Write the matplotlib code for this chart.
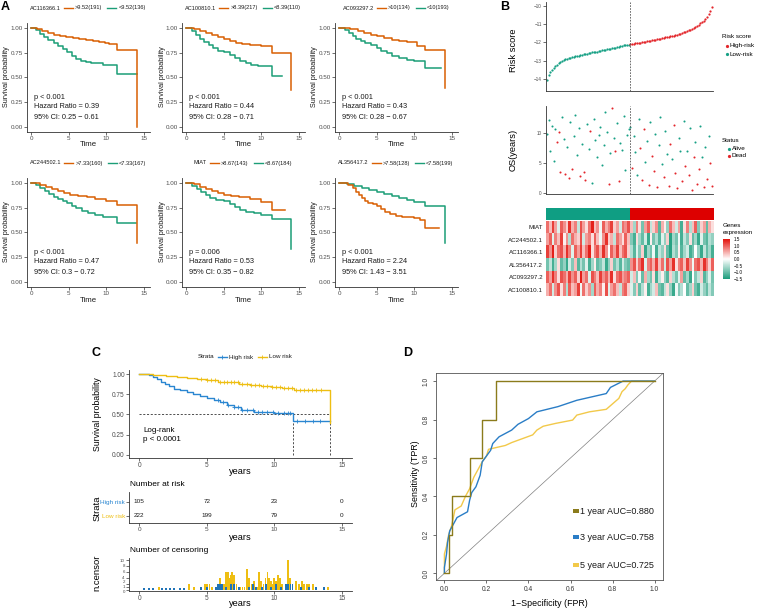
import matplotlib
matplotlib.use("Agg")
import numpy as np
import matplotlib.pyplot as plt
from matplotlib.lines import Line2D
from matplotlib.patches import Rectangle
from matplotlib.colors import LinearSegmentedColormap

plt.rcParams['font.family'] = ['Liberation Sans', 'DejaVu Sans']

### Panel A: KM curves per gene (time, survival after step) ###
genes = ["AC116366.1", "AC100810.1", "AC093297.2", "AC244502.1", "MIAT", "AL356417.2"]
hi_labels = [">9.52(191)", ">8.39(217)", ">10(134)", ">7.33(160)", ">8.67(143)", ">7.58(128)"]
lo_labels = ["<9.52(136)", "<8.39(110)", "<10(193)", "<7.33(167)", "<8.67(184)", "<7.58(199)"]
p_texts = ["p < 0.001", "p < 0.001", "p < 0.001", "p < 0.001", "p = 0.006", "p < 0.001"]
hr_texts = ["0.39", "0.44", "0.43", "0.47", "0.53", "2.24"]
ci_texts = ["0.25 \u2212 0.61", "0.28 \u2212 0.71", "0.28 \u2212 0.67", "0.3 \u2212 0.72", "0.35 \u2212 0.82", "1.43 \u2212 3.51"]

a1_hi_t = [0, 0.8, 1.5, 2.2, 3.0, 3.8, 4.6, 5.5, 6.4, 7.3, 8.2, 9.0, 9.8, 10.3, 11.4, 14.1]
a1_hi_s = [1, 0.99, 0.97, 0.95, 0.93, 0.92, 0.91, 0.90, 0.89, 0.88, 0.87, 0.86, 0.85, 0.84, 0.78, 0.0]
a1_lo_t = [0, 0.7, 1.2, 1.7, 2.3, 3.0, 3.6, 4.2, 4.8, 5.4, 6.0, 6.6, 7.3, 8.0, 9.5, 11.4, 14.1]
a1_lo_s = [1, 0.98, 0.94, 0.91, 0.88, 0.85, 0.82, 0.79, 0.76, 0.72, 0.69, 0.67, 0.65, 0.64, 0.62, 0.535, 0.535]

a2_hi_t = [0, 1.0, 1.8, 2.6, 3.4, 4.2, 5.0, 5.8, 6.6, 7.4, 8.5, 10.0, 11.4, 14.0]
a2_hi_s = [1, 0.99, 0.97, 0.95, 0.93, 0.91, 0.89, 0.87, 0.85, 0.84, 0.83, 0.82, 0.75, 0.37]
a2_lo_t = [0, 0.8, 1.3, 1.8, 2.4, 3.0, 3.6, 4.2, 5.0, 5.8, 6.5, 7.2, 7.9, 8.6, 9.5, 11.4, 12.8]
a2_lo_s = [1, 0.97, 0.93, 0.89, 0.86, 0.83, 0.80, 0.77, 0.76, 0.73, 0.70, 0.67, 0.64, 0.62, 0.61, 0.515, 0.515]

a3_hi_t = [0, 1.5, 2.5, 3.3, 4.2, 5.0, 6.0, 7.0, 8.0, 9.0, 10.3, 11.4, 14.1]
a3_hi_s = [1, 0.99, 0.97, 0.95, 0.93, 0.92, 0.90, 0.88, 0.87, 0.86, 0.82, 0.78, 0.39]
a3_lo_t = [0, 0.8, 1.3, 1.8, 2.3, 2.9, 3.5, 4.2, 5.0, 5.6, 6.3, 7.0, 8.0, 9.0, 10.0, 11.4, 13.6]
a3_lo_s = [1, 0.98, 0.95, 0.92, 0.89, 0.87, 0.85, 0.83, 0.80, 0.77, 0.75, 0.72, 0.70, 0.68, 0.665, 0.595, 0.595]

a4_hi_t = [0, 1.2, 2.0, 2.8, 3.6, 4.4, 5.2, 6.2, 7.4, 8.5, 10.0, 11.4, 14.1]
a4_hi_s = [1, 0.98, 0.96, 0.94, 0.92, 0.90, 0.88, 0.87, 0.86, 0.84, 0.82, 0.78, 0.39]
a4_lo_t = [0, 0.6, 1.2, 1.8, 2.4, 3.0, 3.6, 4.2, 4.8, 5.4, 6.0, 6.8, 7.6, 8.5, 9.5, 10.2, 11.4, 14.0]
a4_lo_s = [1, 0.98, 0.95, 0.92, 0.89, 0.86, 0.84, 0.82, 0.80, 0.77, 0.75, 0.72, 0.70, 0.68, 0.66, 0.65, 0.59, 0.59]

a5_hi_t = [0, 1.0, 1.8, 2.6, 3.4, 4.2, 5.0, 6.0, 7.0, 8.5, 10.0, 11.4, 13.2]
a5_hi_s = [1, 0.99, 0.96, 0.94, 0.92, 0.90, 0.88, 0.87, 0.86, 0.84, 0.81, 0.73, 0.73]
a5_lo_t = [0, 0.8, 1.4, 2.0, 2.6, 3.2, 4.0, 5.0, 5.8, 6.5, 7.2, 8.0, 9.0, 10.0, 11.4, 14.0]
a5_lo_s = [1, 0.97, 0.94, 0.91, 0.88, 0.85, 0.83, 0.82, 0.79, 0.76, 0.73, 0.71, 0.70, 0.675, 0.635, 0.33]

a6_hi_t = [0, 1.2, 1.8, 2.2, 2.6, 3.0, 3.4, 3.9, 4.5, 5.0, 5.6, 6.1, 6.8, 7.5, 8.3, 9.0, 10.0, 10.8, 11.4, 13.3]
a6_hi_s = [1, 0.98, 0.95, 0.91, 0.88, 0.85, 0.82, 0.80, 0.79, 0.77, 0.74, 0.71, 0.69, 0.67, 0.66, 0.65, 0.64, 0.62, 0.545, 0.545]
a6_lo_t = [0, 1.0, 2.0, 3.0, 4.0, 5.0, 6.0, 7.0, 8.0, 9.0, 10.0, 11.4, 14.1]
a6_lo_s = [1, 0.99, 0.97, 0.95, 0.93, 0.91, 0.89, 0.87, 0.85, 0.83, 0.81, 0.77, 0.39]

### Panel B: risk score, survival status, heatmap ###
risk_score = [
    -14.05, -13.80, -13.62, -13.50, -13.41, -13.30, -13.24, -13.15, -13.08, -13.01,
    -12.97, -12.91, -12.88, -12.85, -12.83, -12.80, -12.79, -12.76, -12.73, -12.72,
    -12.70, -12.67, -12.66, -12.64, -12.61, -12.60, -12.58, -12.55, -12.54, -12.52,
    -12.50, -12.47, -12.46, -12.44, -12.42, -12.40, -12.37, -12.36, -12.34, -12.31,
    -12.30, -12.28, -12.26, -12.23, -12.22, -12.20, -12.17, -12.16, -12.14, -12.12,
    -12.10, -12.08, -12.07, -12.05, -12.04, -12.02, -12.01, -11.99, -11.98, -11.96,
    -11.94, -11.93, -11.91, -11.89, -11.87, -11.85, -11.84, -11.81, -11.79, -11.77,
    -11.75, -11.73, -11.72, -11.69, -11.67, -11.65, -11.63, -11.61, -11.58, -11.55,
    -11.52, -11.49, -11.46, -11.42, -11.38, -11.35, -11.30, -11.26, -11.22, -11.18,
    -11.12, -11.05, -10.97, -10.90, -10.82, -10.72, -10.61, -10.48, -10.28, -10.07]
n_low = 50

os_years = [
    9.8, 12.1, 7.0, 11.2, 5.3, 10.6, 8.4, 10.1, 3.5, 12.6, 9.0, 3.1, 7.6, 2.4, 11.8, 3.9, 9.4, 13.0, 6.3, 10.9,
    2.8, 8.1, 3.4, 2.1, 11.5, 7.3, 10.4, 1.6, 12.4, 8.8, 6.0, 9.7, 11.0, 4.7, 7.9, 13.5, 10.2, 1.4, 6.6, 14.1,
    9.1, 6.9, 11.7, 2.0, 8.3, 7.1, 12.8, 3.8, 9.6, 10.7,
    11.0, 4.2, 9.5, 6.8, 3.0, 12.3, 7.4, 2.2, 10.6, 5.1, 8.7, 1.3, 11.8, 6.2, 3.7, 9.9, 0.9, 7.9, 12.7, 4.8,
    2.6, 10.3, 6.5, 1.1, 8.2, 5.6, 11.4, 3.3, 0.8, 9.2, 7.0, 1.9, 12.0, 4.4, 6.9, 2.9, 10.8, 0.5, 5.9, 8.5,
    1.5, 3.9, 11.2, 6.0, 1.0, 7.6, 2.3, 9.4, 4.9, 1.2]
os_dead = [
    0, 0, 0, 0, 0, 0, 1, 1, 1, 0, 0, 1, 0, 1, 0, 1, 0, 0, 0, 0,
    1, 0, 1, 1, 0, 0, 1, 0, 0, 0, 0, 0, 0, 0, 0, 0, 0, 1, 0, 1,
    0, 1, 0, 1, 0, 0, 0, 0, 0, 0,
    0, 1, 0, 0, 0, 0, 1, 1, 1, 0, 0, 1, 0, 1, 1, 0, 1, 0, 0, 0,
    1, 0, 0, 1, 1, 0, 1, 1, 1, 0, 0, 1, 0, 1, 0, 1, 0, 1, 1, 0,
    1, 1, 0, 0, 1, 0, 1, 0, 1, 1]

heat_genes = ["MIAT", "AC244502.1", "AC116366.1", "AL356417.2", "AC093297.2", "AC100810.1"]
hm_low_cols = 30
hm_miat = [0.9, 0.4, 1.2, 0.6, -0.2, 1.0, 0.7, 0.3, 1.3, 0.5, 0.8, -0.4, 1.1, 0.6, 0.2, 0.9, 1.4, 0.4, 0.7, -0.1,
           1.0, 0.5, 0.8, 1.2, 0.3, 0.6, -0.3, 0.9, 0.7, 1.1,
           0.4, -0.6, 0.8, 0.2, -0.9, 0.6, 1.0, -0.4, 0.3, 0.7, -1.1, 0.5, 0.1, -0.7, 0.9, 0.4, -0.3, 0.6, -1.2, 0.2,
           0.8, -0.5, 0.4, 1.0, -0.8, 0.3, 0.6, -1.0, 0.5, 0.2]
hm_ac244502 = [0.6, 1.0, -0.2, 0.8, 0.4, 1.2, 0.1, 0.7, -0.5, 0.9, 0.5, 0.3, 1.1, -0.3, 0.6, 0.8, 0.2, 1.0, 0.4, -0.1,
               0.7, 1.3, 0.3, 0.5, -0.4, 0.9, 0.6, 0.2, 1.0, 0.4,
               -0.8, -1.2, 0.2, -0.6, -1.0, -0.3, -1.3, 0.1, -0.9, -0.5, -1.1, -0.2, -0.7, 0.3, -1.4, -0.6, -0.9, -0.1, -1.2, -0.4,
               -0.8, 0.2, -1.0, -0.6, -1.3, -0.2, -0.9, -1.1, -0.5, -0.7]
hm_ac116366 = [1.2, 0.7, 1.4, 0.3, 0.9, 1.1, 0.5, 1.3, 0.8, -0.2, 1.0, 0.6, 1.2, 0.4, 0.9, 1.4, 0.2, 0.8, 1.1, 0.5,
               1.3, 0.7, 0.0, 1.0, 0.6, 1.2, 0.4, 0.9, 1.1, 0.3,
               -0.5, -1.1, -0.2, -0.8, 0.3, -1.3, -0.6, -0.9, -0.1, -1.2, -0.4, -0.7, 0.2, -1.0, -1.4, -0.5, -0.8, 0.1, -1.1, -0.6,
               -0.3, -1.2, -0.9, 0.0, -0.7, -1.3, -0.4, -1.0, -0.6, -1.2]
hm_al356417 = [-0.9, -0.4, -1.2, -0.6, 0.2, -1.0, -0.7, -1.3, -0.3, -0.8, 0.4, -1.1, -0.5, -0.9, -0.2, -1.2, -0.6, 0.1, -1.0, -0.8,
               -0.4, -1.3, -0.7, 0.3, -0.9, -0.5, -1.1, -0.3, -0.8, -1.0,
               0.7, 1.1, 0.3, 0.9, 1.3, -0.2, 0.8, 1.0, 0.5, 1.2, 0.4, 0.9, -0.3, 1.1, 0.6, 1.3, 0.2, 0.8, 1.0, 0.4,
               1.2, 0.7, -0.1, 0.9, 1.1, 0.5, 1.3, 0.8, 0.3, 1.0]
hm_ac093297 = [1.0, 0.6, 1.3, 0.8, 0.2, 1.1, 0.9, 0.5, 1.2, 0.7, 1.0, 0.3, 1.4, 0.6, 0.9, -0.2, 1.1, 0.8, 0.4, 1.2,
               0.7, 1.0, 0.5, 1.3, 0.2, 0.9, 1.1, 0.6, 0.8, 1.0,
               -0.3, 0.4, -0.8, -0.1, -1.0, 0.5, -0.6, -0.9, 0.2, -1.2, -0.4, 0.1, -0.7, -1.1, 0.3, -0.5, -0.9, -0.2, 0.6, -1.0,
               -0.6, -1.3, 0.0, -0.8, -0.4, 0.3, -1.1, -0.7, -0.2, -0.9]
hm_ac100810 = [0.5, 0.9, -0.3, 0.7, 1.1, 0.2, 0.8, -0.5, 1.0, 0.4, 0.6, 1.2, -0.1, 0.9, 0.3, 0.7, -0.6, 1.0, 0.5, 0.8,
               0.1, 1.1, -0.2, 0.6, 0.9, 0.4, -0.4, 0.8, 1.0, 0.3,
               -0.2, -0.8, 0.3, -1.0, -0.5, 0.1, -1.2, -0.6, -0.3, 0.4, -0.9, -1.1, -0.4, 0.2, -0.7, -1.3, -0.1, -0.8, -0.5, 0.0,
               -1.0, -0.6, 0.3, -0.9, -1.2, -0.3, -0.7, -1.0, -0.4, -0.8]

### Panel C: risk groups KM ###
c_hi_t = [0, 0.7, 1.0, 1.3, 1.6, 1.9, 2.2, 2.6, 3.0, 3.5, 4.0, 4.5, 5.0, 5.5, 6.0, 6.5, 7.0, 7.5, 8.5, 10.0, 11.4, 14.1]
c_hi_s = [1, 0.99, 0.97, 0.94, 0.91, 0.88, 0.85, 0.82, 0.80, 0.78, 0.75, 0.73, 0.71, 0.68, 0.65, 0.62, 0.59, 0.55, 0.535, 0.52, 0.415, 0.415]
c_lo_t = [0, 1.0, 2.0, 2.8, 3.5, 4.3, 5.0, 5.8, 6.6, 7.4, 8.2, 9.0, 9.8, 10.6, 11.5, 14.1]
c_lo_s = [1, 0.995, 0.985, 0.97, 0.955, 0.94, 0.925, 0.91, 0.90, 0.885, 0.87, 0.855, 0.845, 0.83, 0.805, 0.40]
c_hi_cens = [5.8, 6.2, 6.6, 7.0, 7.3, 7.6, 8.0, 8.4, 8.8, 9.1, 9.5, 9.9, 10.3, 10.7, 11.0, 11.2, 11.7, 12.3, 12.9, 13.4]
c_lo_cens = [4.6, 5.0, 5.3, 5.6, 6.0, 6.3, 6.5, 6.8, 7.0, 7.3, 7.6, 8.0, 8.3, 8.6, 8.9, 9.2, 9.5, 9.8, 10.1, 10.4,
             10.7, 11.0, 11.3, 11.6, 11.9, 12.2, 12.5, 12.8, 13.1, 13.5]
c_medians = [11.4, 14.1]
risk_times = [0, 5, 10, 15]
risk_hi_n = [105, 72, 23, 0]
risk_lo_n = [222, 199, 79, 0]
cens_lo_t = [1.48, 3.7, 4.07, 4.9, 5.05, 5.2, 5.4, 5.9, 6.0, 6.3, 6.4, 6.55, 6.67, 6.8, 6.9, 7.0, 7.2, 7.45, 7.65, 7.8,
             8.0, 8.15, 8.35, 8.5, 8.7, 8.9, 9.0, 9.2, 9.35, 9.5, 9.6, 9.75, 9.9, 10.0, 10.1, 10.25, 10.4, 10.6, 11.0, 11.15,
             11.35, 11.6, 11.85, 12.05, 12.2, 12.4, 12.6, 12.85, 13.1, 13.7, 14.0]
cens_lo_n = [1, 2, 1, 2, 2, 2, 1, 1, 4, 2, 6, 6, 4, 5, 6, 5, 2, 1, 1, 1,
             7, 4, 2, 3, 1, 6, 3, 2, 4, 6, 4, 3, 2, 4, 3, 5, 4, 2, 10, 4,
             2, 3, 2, 3, 2, 2, 2, 2, 1, 1, 1]
cens_hi_t = [0.37, 0.75, 1.0, 1.7, 2.0, 2.3, 2.6, 3.0, 3.3, 4.6, 5.0, 5.7, 5.85, 6.0, 6.15, 6.4, 6.8, 7.05, 7.4, 8.15,
             8.4, 8.65, 9.1, 9.4, 9.75, 10.1, 10.5, 10.85, 11.0, 11.2, 11.35, 12.0, 12.6, 13.1, 13.7]
cens_hi_n = [0.5, 0.5, 0.5, 0.5, 0.5, 0.5, 0.5, 0.5, 0.5, 1, 1, 1, 2, 2, 2, 1, 2, 2, 1, 1,
             2, 1, 1, 2, 1, 2, 1, 2, 2, 2, 2, 1, 1, 1, 1]
cens_ticks = [0, 1, 2, 4, 6, 8, 10]

### Panel D: time dependent ROC ###
roc1_fpr = [0, 0.02, 0.02, 0.035, 0.035, 0.12, 0.12, 0.18, 0.18, 0.245, 0.245, 1.0]
roc1_tpr = [0, 0, 0.2, 0.2, 0.4, 0.4, 0.6, 0.6, 0.8, 0.8, 1.0, 1.0]
roc3_fpr = [0, 0, 0.01, 0.015, 0.025, 0.04, 0.06, 0.11, 0.12, 0.13, 0.15, 0.16, 0.17, 0.18, 0.2, 0.22, 0.23, 0.26,
            0.32, 0.35, 0.4, 0.44, 0.54, 0.63, 0.77, 0.79, 0.85, 1.0]
roc3_tpr = [0, 0.03, 0.1, 0.16, 0.22, 0.25, 0.29, 0.32, 0.38, 0.42, 0.45, 0.48, 0.51, 0.58, 0.61, 0.64, 0.675, 0.71,
            0.745, 0.775, 0.805, 0.84, 0.867, 0.90, 0.935, 0.967, 1.0, 1.0]
roc5_fpr = [0, 0, 0.01, 0.02, 0.035, 0.05, 0.08, 0.1, 0.12, 0.14, 0.16, 0.18, 0.2, 0.21, 0.29, 0.32, 0.37, 0.42,
            0.44, 0.47, 0.53, 0.61, 0.63, 0.69, 0.77, 0.83, 0.845, 0.86, 0.873, 0.89, 1.0]
roc5_tpr = [0, 0.1, 0.14, 0.2, 0.25, 0.33, 0.35, 0.4, 0.44, 0.5, 0.54, 0.58, 0.61, 0.645, 0.665, 0.68, 0.70, 0.72,
            0.745, 0.765, 0.78, 0.797, 0.823, 0.84, 0.853, 0.91, 0.945, 0.96, 0.98, 1.0, 1.0]
roc_labels = ["1 year AUC=0.880", "3 year AUC=0.758", "5 year AUC=0.725"]

ORANGE, GREEN = "#D95F02", "#1B9E77"
C_BLUE, C_YEL = "#2A86D1", "#EEBE12"
D_COLS = ["#8B7B1C", "#2A7DC6", "#F2C94A"]
B_GREEN, B_RED = "#16a085", "#e3262b"
AXC = "#333333"
TXT = "#4d4d4d"

W, H = 758, 610
fig = plt.figure(figsize=(W / 100, H / 100), dpi=100)


def box(l, t, r, b):
    return fig.add_axes([l / W, 1 - b / H, (r - l) / W, (b - t) / H])


def fx(x):
    return x / W


def fy(y):
    return 1 - y / H


def classic(ax, fs):
    for s in ["top", "right"]:
        ax.spines[s].set_visible(False)
    for s in ["left", "bottom"]:
        ax.spines[s].set_color(AXC)
        ax.spines[s].set_linewidth(0.6)
    ax.tick_params(length=2, width=0.5, pad=1, labelsize=fs, colors=AXC, labelcolor=TXT)


def h_legend(cx, cy, title, labels, colors, fs, marker=None):
    r = fig.canvas.get_renderer()
    t0 = fig.text(0, fy(cy), title, fontsize=fs, va="center", ha="left", color="#1a1a1a")
    labs = [fig.text(0, fy(cy), s, fontsize=fs, va="center", ha="left", color="#1a1a1a") for s in labels]
    tw = t0.get_window_extent(r).width
    lws = [t.get_window_extent(r).width for t in labs]
    key_w, g1, g2, g3 = 9, 3, 2, 5
    total = tw + g1 + sum(key_w + g2 + w for w in lws) + g3 * (len(lws) - 1)
    x = cx - total / 2
    t0.set_x(fx(x))
    x += tw
    for i, (t, w, c) in enumerate(zip(labs, lws, colors)):
        x += g1 if i == 0 else g3
        fig.add_artist(Line2D([fx(x), fx(x + key_w)], [fy(cy), fy(cy)], transform=fig.transFigure,
                              color=c, lw=1.0))
        if marker:
            fig.add_artist(Line2D([fx(x + key_w / 2)], [fy(cy)], transform=fig.transFigure,
                                  color=c, marker=marker, ms=3, mew=0.6, ls="none"))
        x += key_w + g2
        t.set_x(fx(x))
        x += w


# ---------------- Panel A ----------------
hi_t = [a1_hi_t, a2_hi_t, a3_hi_t, a4_hi_t, a5_hi_t, a6_hi_t]
hi_s = [a1_hi_s, a2_hi_s, a3_hi_s, a4_hi_s, a5_hi_s, a6_hi_s]
lo_t = [a1_lo_t, a2_lo_t, a3_lo_t, a4_lo_t, a5_lo_t, a6_lo_t]
lo_s = [a1_lo_s, a2_lo_s, a3_lo_s, a4_lo_s, a5_lo_s, a6_lo_s]
col_left = [27, 182, 335]
row_top = [23, 178]
for k in range(6):
    r, c = divmod(k, 3)
    l, t = col_left[c], row_top[r]
    ax = box(l, t, l + 123, t + 109)
    classic(ax, 4.5)
    ax.step(lo_t[k], lo_s[k], where="post", color=GREEN, lw=1.1)
    ax.step(hi_t[k], hi_s[k], where="post", color=ORANGE, lw=1.1)
    ax.set_xlim(-0.55, 15.8)
    ax.set_ylim(-0.054, 1.05)
    ax.set_xticks([0, 5, 10, 15])
    ax.set_yticks([0, 0.25, 0.5, 0.75, 1.0])
    ax.set_yticklabels(["0.00", "0.25", "0.50", "0.75", "1.00"])
    for yy, s in zip([0.30, 0.20, 0.09], [p_texts[k], "Hazard Ratio = " + hr_texts[k], "95% CI: " + ci_texts[k]]):
        ax.text(0.4, yy, s, fontsize=5.3, va="center", ha="left", color="#1a1a1a")
    fig.text(fx(l - 20), fy(t + 54), "Survival probability", rotation=90, fontsize=5.2,
             va="center", ha="center", color="#1a1a1a")
    fig.text(fx(l + 61), fy(t + 122), "Time", fontsize=5.6, va="center", ha="center", color="#1a1a1a")
    h_legend(l + 61, t - 15, genes[k], [hi_labels[k], lo_labels[k]], [ORANGE, GREEN], 4.1)

# ---------------- Panel B ----------------
x_idx = np.arange(len(risk_score))
rs = np.array(risk_score)
ax = box(546, 2, 713, 91)
classic(ax, 3.3)
ax.scatter(x_idx[:n_low], rs[:n_low], s=2.6, color=B_GREEN, linewidths=0)
ax.scatter(x_idx[n_low:], rs[n_low:], s=2.6, color=B_RED, linewidths=0)
ax.axvline(n_low - 0.5, color="#555555", lw=0.6, ls=(0, (2, 1.5)))
ax.set_xlim(-0.6, len(rs) - 0.4)
ax.set_ylim(-14.65, -9.8)
ax.set_xticks([])
ax.set_yticks([-14, -13, -12, -11, -10])
fig.text(fx(513), fy(50), "Risk score", rotation=90, fontsize=6.7, va="center", ha="center")
fig.text(fx(722), fy(37), "Risk score", fontsize=4.5, va="center")
for yy, lab, cc in [(46, "High-risk", B_RED), (54, "Low-risk", B_GREEN)]:
    fig.add_artist(Line2D([fx(727)], [fy(yy)], transform=fig.transFigure, marker="o", ms=1.3,
                          color=cc, ls="none"))
    fig.text(fx(730), fy(yy), lab, fontsize=4.6, va="center")

osy = np.array(os_years)
dead = np.array(os_dead) == 1
x_os = np.arange(len(osy))
ax = box(546, 106, 713, 194)
classic(ax, 3.3)
ax.scatter(x_os[~dead], osy[~dead], s=2.2, color=B_GREEN, linewidths=0)
ax.scatter(x_os[dead], osy[dead], s=2.2, color=B_RED, linewidths=0)
ax.axvline(n_low - 0.5, color="#555555", lw=0.6, ls=(0, (2, 1.5)))
ax.set_xlim(-0.6, len(osy) - 0.4)
ax.set_ylim(-0.22, 14.5)
ax.set_xticks([])
ax.set_yticks([0, 5, 10])
fig.text(fx(513), fy(150), "OS(years)", rotation=90, fontsize=6.7, va="center", ha="center")
fig.text(fx(722), fy(140), "Status", fontsize=4.5, va="center")
for yy, lab, cc in [(149, "Alive", B_GREEN), (156, "Dead", B_RED)]:
    fig.add_artist(Line2D([fx(729)], [fy(yy)], transform=fig.transFigure, marker="o", ms=1.3,
                          color=cc, ls="none"))
    fig.text(fx(732), fy(yy), lab, fontsize=4.6, va="center")

cmap = LinearSegmentedColormap.from_list("expr", ["#1a9c7b", "#ffffff", "#e3120b"])
heat = np.array([hm_miat, hm_ac244502, hm_ac116366, hm_al356417, hm_ac093297, hm_ac100810])
ax = box(546, 221, 714, 296)
im = ax.imshow(heat, cmap=cmap, vmin=-1.5, vmax=1.5, aspect="auto", interpolation="nearest")
for s in ax.spines.values():
    s.set_visible(False)
ax.set_xticks([])
ax.set_yticks(range(len(heat_genes)))
ax.set_yticklabels(heat_genes, fontsize=4.5, color="#1a1a1a")
ax.tick_params(length=0, pad=2)

n_cols = heat.shape[1]
ax = box(546, 208, 714, 220.5)
ax.barh([0, 0], [hm_low_cols, n_cols - hm_low_cols], left=[0, hm_low_cols], height=1,
        color=["#0f9e83", "#dd0000"])
ax.set_xlim(0, n_cols)
ax.set_ylim(-0.5, 0.5)
ax.axis("off")

cax = box(723, 239, 730, 279)
cb = fig.colorbar(im, cax=cax, ticks=[-1.5, -1.0, -0.5, 0.0, 0.5, 1.0, 1.5])
cb.outline.set_visible(False)
cb.ax.tick_params(labelsize=3.3, length=1.5, color="white", pad=1.5)
cb.ax.set_yticklabels(["\u22121.5", "\u22121.0", "\u22120.5", "0.0", "0.5", "1.0", "1.5"])
fig.text(fx(723), fy(225.5), "Genes", fontsize=4.5, va="center")
fig.text(fx(723), fy(232.5), "expression", fontsize=4.5, va="center")

# ---------------- Panel C ----------------
ax = box(129, 370, 352, 458)
classic(ax, 4.7)
ax.hlines(0.5, 0, max(c_medians), color="#333333", lw=0.6, ls=(0, (2.5, 2)))
ax.vlines(c_medians, 0, 0.5, color="#333333", lw=0.6, ls=(0, (2.5, 2)))
for tt, ss, cens, cc in [(c_hi_t, c_hi_s, c_hi_cens, C_BLUE), (c_lo_t, c_lo_s, c_lo_cens, C_YEL)]:
    ax.step(tt, ss, where="post", color=cc, lw=1.0)
    idx = np.searchsorted(tt, cens, side="right") - 1
    ax.plot(cens, np.array(ss)[idx], ls="none", marker="+", ms=3, mew=0.6, color=cc)
ax.set_xlim(-0.76, 15.76)
ax.set_ylim(-0.042, 1.054)
ax.set_xticks([0, 5, 10, 15])
ax.set_yticks([0, 0.25, 0.5, 0.75, 1.0])
ax.set_yticklabels(["0.00", "0.25", "0.50", "0.75", "1.00"])
ax.text(0.27, 0.30, "Log-rank", fontsize=5.8, va="center")
ax.text(0.27, 0.19, "p < 0.0001", fontsize=5.8, va="center")
fig.text(fx(97), fy(414), "Survival probability", rotation=90, fontsize=6.3, va="center", ha="center")
fig.text(fx(240), fy(471), "years", fontsize=6.6, va="center", ha="center")
h_legend(245, 357, "Strata", ["High risk", "Low risk"], [C_BLUE, C_YEL], 4.5, marker="+")

# risk table
ax = box(129, 492, 352, 523)
classic(ax, 4.6)
for tt, a, b in zip(risk_times, risk_hi_n, risk_lo_n):
    ax.text(tt, 2, str(a), fontsize=4.6, ha="center", va="center", color="#1a1a1a")
    ax.text(tt, 1, str(b), fontsize=4.6, ha="center", va="center", color="#1a1a1a")
ax.set_xlim(-0.76, 15.76)
ax.set_ylim(0.5, 2.71)
ax.set_xticks([0, 5, 10, 15])
ax.set_yticks([2, 1])
ax.set_yticklabels(["High risk", "Low risk"])
for lab, cc in zip(ax.get_yticklabels(), [C_BLUE, C_YEL]):
    lab.set_color(cc)
fig.text(fx(130), fy(485), "Number at risk", fontsize=6.0, va="center", ha="left")
fig.text(fx(97), fy(508), "Strata", rotation=90, fontsize=6.8, va="center", ha="center")
fig.text(fx(240), fy(537), "years", fontsize=6.6, va="center", ha="center")

# censoring
ax = box(129, 558, 352, 591)
classic(ax, 3.2)
ax.bar(cens_lo_t, cens_lo_n, width=0.14, color=C_YEL, linewidth=0)
ax.bar(cens_hi_t, cens_hi_n, width=0.14, color="#1f73b7", linewidth=0)
ax.set_xlim(-0.76, 15.76)
ax.set_ylim(-0.5, 10.7)
ax.set_xticks([0, 5, 10, 15])
ax.set_yticks(cens_ticks)
ax.tick_params(axis="x", labelsize=4.7)
# keep the three lowest labels apart
yl = ax.get_yticklabels()
yl[0].set_va("top")
yl[2].set_va("bottom")
fig.text(fx(130), fy(551), "Number of censoring", fontsize=6.0, va="center", ha="left")
fig.text(fx(97), fy(573), "n.censor", rotation=90, fontsize=6.8, va="center", ha="center")
fig.text(fx(240), fy(604), "years", fontsize=6.6, va="center", ha="center")

# ---------------- Panel D ----------------
ax = box(436, 373, 663, 580)
ax.axline((0, 0), (1, 1), color="#808080", lw=0.5)
for fpr, tpr, cc in [(roc5_fpr, roc5_tpr, D_COLS[2]), (roc3_fpr, roc3_tpr, D_COLS[1]), (roc1_fpr, roc1_tpr, D_COLS[0])]:
    ax.plot(fpr, tpr, color=cc, lw=1.0)
ax.set_xlim(-0.04, 1.04)
ax.set_ylim(-0.035, 1.042)
for s in ax.spines.values():
    s.set_color("#555555")
    s.set_linewidth(0.6)
ticks = [0, 0.2, 0.4, 0.6, 0.8, 1.0]
ax.set_xticks(ticks)
ax.set_yticks(ticks)
ax.set_xticklabels(["%.1f" % v for v in ticks])
ax.set_yticklabels(["%.1f" % v for v in ticks], rotation=90, va="center")
ax.tick_params(length=2.5, width=0.5, pad=2, labelsize=4.8, colors="#333333")
for yy, lab, cc in zip([0.324, 0.187, 0.043], roc_labels, D_COLS):
    ax.add_patch(Rectangle((0.612, yy - 0.011), 0.029, 0.022, color=cc, lw=0))
    ax.text(0.647, yy, lab, fontsize=6.5, va="center", ha="left", color="#1a1a1a")
fig.text(fx(549.5), fy(603), "1\u2212Specificity (FPR)", fontsize=6.4, va="center", ha="center")
fig.text(fx(415), fy(474), "Sensitivity (TPR)", rotation=90, fontsize=6.4, va="center", ha="center")

# panel letters
for lx, ly, letter in [(5, 7, "A"), (505, 7, "B"), (96, 353, "C"), (408, 353, "D")]:
    fig.text(fx(lx), fy(ly), letter, fontsize=9, fontweight="bold", va="center", ha="center")

fig.savefig("out.png", dpi=100)
